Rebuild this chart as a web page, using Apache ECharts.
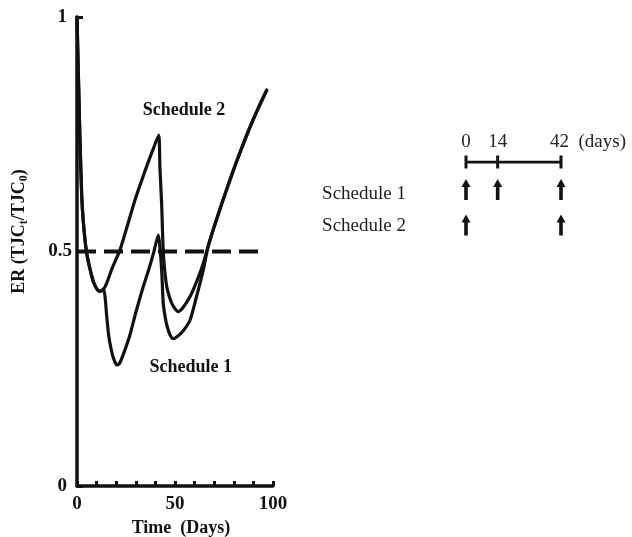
<!DOCTYPE html>
<html>
<head>
<meta charset="utf-8">
<script src="https://cdn.jsdelivr.net/npm/echarts@6/dist/echarts.min.js"></script>
<style>
html,body{margin:0;padding:0;background:#fff;}
#chart{width:632px;height:537px;}
</style>
</head>
<body>
<div id="chart"></div>
<script>
// ---- data ----
const s1Days = [0, 0.8, 1.5, 2.4, 3.2, 4.8, 6.5, 8.4, 10.5, 12, 13.6, 14.4, 15.2, 16.2, 17.5, 18.8, 20.3, 21.8, 24, 27, 30, 33.8, 36.5, 39, 41.5, 42.3, 43.2, 44, 45, 46, 47.5, 49.1, 51, 54, 57.7, 61, 64.4, 66.6, 69, 71.1, 73, 77, 81.5, 86.6, 90, 93.4, 96.8];
const s1ER   = [1.0, 0.86, 0.74, 0.62, 0.565, 0.5, 0.465, 0.435, 0.418, 0.415, 0.42, 0.40, 0.36, 0.32, 0.29, 0.27, 0.258, 0.262, 0.285, 0.322, 0.37, 0.425, 0.46, 0.496, 0.535, 0.51, 0.46, 0.39, 0.36, 0.34, 0.322, 0.314, 0.318, 0.33, 0.354, 0.404, 0.46, 0.505, 0.54, 0.567, 0.591, 0.64, 0.693, 0.748, 0.782, 0.814, 0.844];
const s2Days = [0, 0.8, 1.5, 2.4, 3.2, 4.8, 6.5, 8.4, 10.5, 12, 13.6, 15.1, 18, 21.9, 25, 29.6, 35.5, 39, 41.7, 42.3, 43.2, 44, 45, 45.8, 47, 48.3, 50, 51.7, 54, 57.7, 60, 62.8, 64.8, 66.8, 69, 71.1, 73, 77, 81.5, 86.6, 90, 93.4, 96.8];
const s2ER   = [1.0, 0.86, 0.74, 0.62, 0.565, 0.5, 0.465, 0.435, 0.418, 0.415, 0.42, 0.432, 0.465, 0.503, 0.545, 0.61, 0.681, 0.72, 0.748, 0.68, 0.6, 0.5, 0.45, 0.425, 0.405, 0.39, 0.378, 0.372, 0.38, 0.404, 0.425, 0.455, 0.48, 0.51, 0.54, 0.567, 0.591, 0.64, 0.693, 0.748, 0.782, 0.814, 0.844];
const refDays = [0, 92.5];
const refER = [0.5, 0.5];
const xTickLabels = [0, 50, 100];
const yTickLabels = [0, 0.5, 1];
const annotations = [
  {text: 'Schedule 2', day: 54.6, er: 0.80},
  {text: 'Schedule 1', day: 58, er: 0.252}
];
// schedule diagram
const timelineDays = [0, 14, 42];
const rowNames = ['', 'Schedule 1', 'Schedule 2'];
const schedule1Doses = [0, 14, 42];
const schedule2Doses = [0, 42];

const zip = (a, b) => a.map((v, i) => [v, b[i]]);
const SERIF = '"Liberation Serif", "Times New Roman", serif';
const INK = '#111';
const ARROW = 'path://M4.5,0 L9,8 L6.3,8 L6.3,21 L2.7,21 L2.7,8 L0,8 Z';

const chart = echarts.init(document.getElementById('chart'), null, {renderer: 'canvas'});
const option = {
  backgroundColor: '#fff',
  animation: false,
  grid: [
    {left: 77, top: 17, width: 196, height: 469, containLabel: false, outerBoundsMode: 'none'},
    {left: 466, top: 162, width: 95, height: 64, containLabel: false, outerBoundsMode: 'none'}
  ],
  xAxis: [
    {
      gridIndex: 0, type: 'value', min: 0, max: 100, interval: 10,
      splitLine: {show: false},
      axisLine: {lineStyle: {color: INK, width: 3.5}},
      axisTick: {inside: true, length: 5, lineStyle: {color: INK, width: 3}},
      axisLabel: {
        margin: 9, color: INK, fontFamily: SERIF, fontWeight: 'bold', fontSize: 19,
        formatter: v => xTickLabels.indexOf(v) >= 0 ? String(v) : ''
      },
      name: 'Time  (Days)', nameLocation: 'middle', nameGap: 27,
      nameTextStyle: {color: INK, fontFamily: SERIF, fontWeight: 'bold', fontSize: 18, verticalAlign: 'top', padding: [0, 0, 0, 12]}
    },
    {
      gridIndex: 1, type: 'value', min: 0, max: 42,
      show: false
    }
  ],
  yAxis: [
    {
      gridIndex: 0, type: 'value', min: 0, max: 1, interval: 0.5,
      splitLine: {show: false},
      axisLine: {lineStyle: {color: INK, width: 3.5}},
      axisTick: {inside: true, length: 6, lineStyle: {color: INK, width: 3}},
      axisLabel: {
        margin: 5, color: INK, fontFamily: SERIF, fontWeight: 'bold', fontSize: 19,
        formatter: v => yTickLabels.indexOf(v) < 0 ? '' : (v === 0.5 ? '{a|0.5}' : '{b|' + v + '}'),
        rich: {
          a: {fontFamily: SERIF, fontWeight: 'bold', fontSize: 19, color: INK},
          b: {fontFamily: SERIF, fontWeight: 'bold', fontSize: 19, color: INK, padding: [0, 5, 0, 0]}
        }
      },
      name: '{m|ER (TJC}{s|t}{m|/TJC}{s|0}{m|)}',
      nameLocation: 'middle', nameGap: 47, nameRotate: 90,
      nameTextStyle: {
        padding: [0, 0, 0, 40],
        rich: {
          m: {fontFamily: SERIF, fontWeight: 'bold', fontSize: 18, color: INK, lineHeight: 22, verticalAlign: 'middle'},
          s: {fontFamily: SERIF, fontWeight: 'bold', fontSize: 12, color: INK, lineHeight: 22, verticalAlign: 'bottom', padding: [8, 0, 0, 0]}
        }
      }
    },
    {
      gridIndex: 1, type: 'category', inverse: true, boundaryGap: false,
      data: rowNames,
      axisLine: {show: false}, axisTick: {show: false}, splitLine: {show: false},
      axisLabel: {margin: 60, color: '#222', fontFamily: SERIF, fontSize: 19, align: 'right'}
    }
  ],
  series: [
    {
      type: 'line', xAxisIndex: 0, yAxisIndex: 0, name: 'ref',
      data: zip(refDays, refER), symbol: 'none', silent: true,
      lineStyle: {color: INK, width: 4, type: [19, 8], cap: 'butt'},
      z: 2
    },
    {
      type: 'line', xAxisIndex: 0, yAxisIndex: 0, name: 'Schedule 1',
      data: zip(s1Days, s1ER), symbol: 'none', smooth: 0.2,
      lineStyle: {color: INK, width: 3.2, cap: 'round', join: 'round'},
      z: 3
    },
    {
      type: 'line', xAxisIndex: 0, yAxisIndex: 0, name: 'Schedule 2',
      data: zip(s2Days, s2ER), symbol: 'none', smooth: 0.2,
      lineStyle: {color: INK, width: 3.2, cap: 'round', join: 'round'},
      z: 3
    },
    {
      type: 'scatter', xAxisIndex: 0, yAxisIndex: 0, name: 'annot',
      symbolSize: 0, silent: true,
      itemStyle: {opacity: 1},
      data: annotations.map(a => ({value: [a.day, a.er], name: a.text})),
      label: {show: true, position: 'inside', formatter: p => p.name, color: INK, fontFamily: SERIF, fontWeight: 'bold', fontSize: 18}
    },
    // schedule diagram
    {
      type: 'line', xAxisIndex: 1, yAxisIndex: 1, name: 'timeline',
      data: timelineDays.map(d => d === 42
        ? {value: [d, 0], label: {align: 'left', offset: [-11, 0]}}
        : {value: [d, 0]}),
      symbol: 'rect', symbolSize: [3, 13], showAllSymbol: true,
      itemStyle: {color: INK, opacity: 1},
      lineStyle: {color: INK, width: 3},
      label: {
        show: true, position: 'top', distance: 4, color: '#222', fontFamily: SERIF, fontSize: 19,
        formatter: p => p.value[0] === 42 ? '42  (days)' : String(p.value[0])
      }
    },
    {
      type: 'scatter', xAxisIndex: 1, yAxisIndex: 1, name: 'doses1',
      data: schedule1Doses.map(d => [d, 1]),
      symbol: ARROW, symbolSize: [9, 21], symbolOffset: [0, -4.5],
      itemStyle: {color: INK, opacity: 1}
    },
    {
      type: 'scatter', xAxisIndex: 1, yAxisIndex: 1, name: 'doses2',
      data: schedule2Doses.map(d => [d, 2]),
      symbol: ARROW, symbolSize: [9, 21], symbolOffset: [0, -1],
      itemStyle: {color: INK, opacity: 1}
    }
  ]
};
chart.setOption(option);
</script>
</body>
</html>
